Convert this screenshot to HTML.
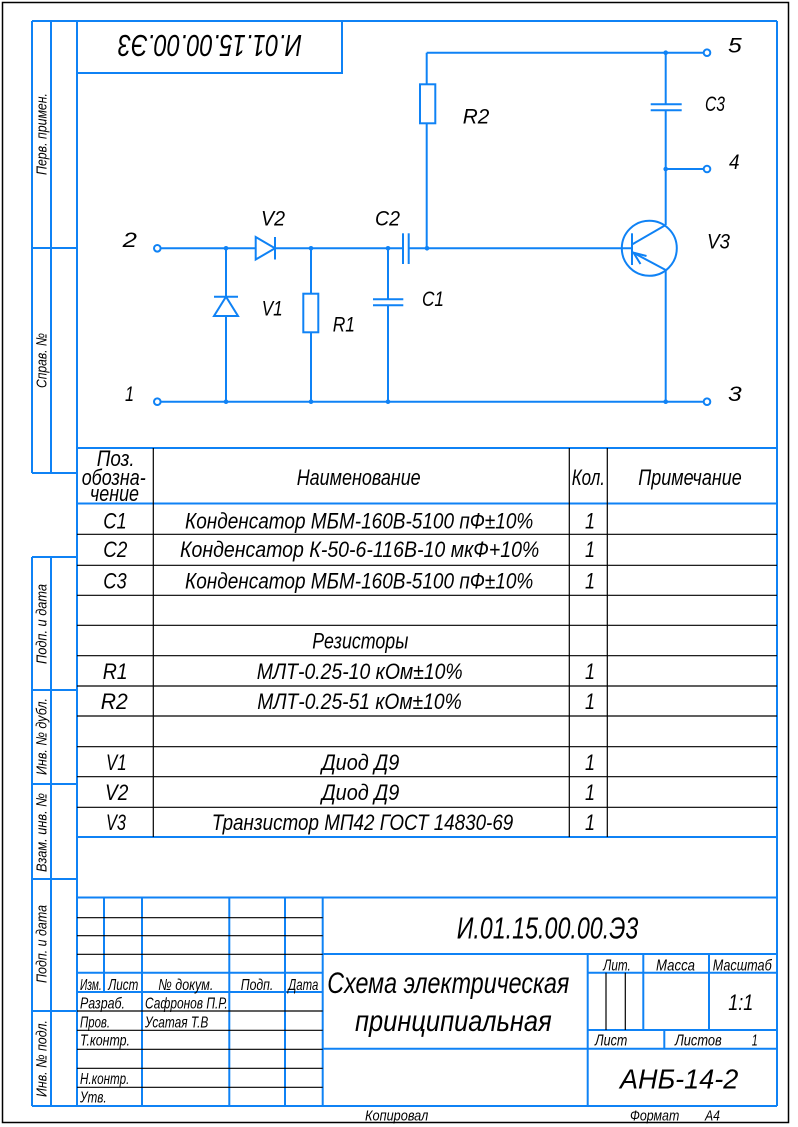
<!DOCTYPE html>
<html><head><meta charset="utf-8"><style>
html,body{margin:0;padding:0;background:#fff;}
svg{display:block;}
text{font-family:"Liberation Sans",sans-serif;font-style:italic;fill:#000;}
</style></head><body>
<svg width="798" height="1127" viewBox="0 0 798 1127" xmlns="http://www.w3.org/2000/svg">
<rect x="0" y="0" width="798" height="1127" fill="#fff"/>
<rect x="2.5" y="2.5" width="786" height="1120" fill="none" stroke="#000" stroke-width="1.5"/>

<!-- Blue frame -->
<g stroke="#0f82f5" stroke-width="2" fill="none">
<line x1="32" y1="21" x2="777" y2="21"/>
<line x1="77" y1="21" x2="77" y2="1106"/>
<line x1="777" y1="21" x2="777" y2="1106"/>
<line x1="32" y1="1106" x2="777" y2="1106"/>
<!-- side strip upper -->
<line x1="32" y1="21" x2="32" y2="473"/>
<line x1="51" y1="21" x2="51" y2="473"/>
<line x1="32" y1="248" x2="77" y2="248"/>
<line x1="32" y1="473" x2="77" y2="473"/>
<!-- side strip lower -->
<line x1="32" y1="557" x2="32" y2="1106"/>
<line x1="51" y1="557" x2="51" y2="1106"/>
<line x1="32" y1="557" x2="77" y2="557"/>
<line x1="32" y1="690" x2="77" y2="690"/>
<line x1="32" y1="784" x2="77" y2="784"/>
<line x1="32" y1="879" x2="77" y2="879"/>
<line x1="32" y1="1011" x2="77" y2="1011"/>
<!-- stamp -->
<polyline points="77,73 342,73 342,21"/>
<!-- table -->
<line x1="77" y1="448" x2="777" y2="448"/>
<line x1="77" y1="503.5" x2="777" y2="503.5"/>
<line x1="77" y1="837" x2="777" y2="837"/>
<!-- title block -->
<line x1="77" y1="897.5" x2="777" y2="897.5"/>
<line x1="104" y1="897.5" x2="104" y2="992"/>
<line x1="142" y1="897.5" x2="142" y2="1106"/>
<line x1="229.3" y1="897.5" x2="229.3" y2="1106"/>
<line x1="285" y1="897.5" x2="285" y2="1106"/>
<line x1="322.7" y1="897.5" x2="322.7" y2="1106"/>
<line x1="77" y1="972.7" x2="322.7" y2="972.7"/>
<line x1="77" y1="992" x2="322.7" y2="992"/>
<line x1="322.7" y1="954" x2="777" y2="954"/>
<line x1="322.7" y1="1048.7" x2="777" y2="1048.7"/>
<line x1="587.7" y1="954" x2="587.7" y2="1106"/>
<line x1="587.7" y1="972.7" x2="777" y2="972.7"/>
<line x1="643.3" y1="954" x2="643.3" y2="1030"/>
<line x1="709" y1="954" x2="709" y2="1030"/>
<line x1="587.7" y1="1030" x2="777" y2="1030"/>
<line x1="664.3" y1="1030" x2="664.3" y2="1048.7"/>
</g>

<!-- Black thin table lines -->
<g stroke="#000" stroke-width="1.2" fill="none">
<line x1="153.3" y1="448" x2="153.3" y2="837"/>
<line x1="569.3" y1="448" x2="569.3" y2="837"/>
<line x1="607.3" y1="448" x2="607.3" y2="837"/>
<line x1="77" y1="534.3" x2="777" y2="534.3"/>
<line x1="77" y1="565.3" x2="777" y2="565.3"/>
<line x1="77" y1="595.3" x2="777" y2="595.3"/>
<line x1="77" y1="625.3" x2="777" y2="625.3"/>
<line x1="77" y1="655.7" x2="777" y2="655.7"/>
<line x1="77" y1="686" x2="777" y2="686"/>
<line x1="77" y1="716" x2="777" y2="716"/>
<line x1="77" y1="746.7" x2="777" y2="746.7"/>
<line x1="77" y1="776.7" x2="777" y2="776.7"/>
<line x1="77" y1="807.3" x2="777" y2="807.3"/>
<!-- title block thin -->
<line x1="77" y1="917.7" x2="322.7" y2="917.7"/>
<line x1="77" y1="935.7" x2="322.7" y2="935.7"/>
<line x1="77" y1="954.3" x2="322.7" y2="954.3"/>
<line x1="77" y1="1011" x2="322.7" y2="1011"/>
<line x1="77" y1="1030.3" x2="322.7" y2="1030.3"/>
<line x1="77" y1="1049.3" x2="322.7" y2="1049.3"/>
<line x1="77" y1="1068.3" x2="322.7" y2="1068.3"/>
<line x1="77" y1="1087.3" x2="322.7" y2="1087.3"/>
<line x1="606" y1="972.7" x2="606" y2="1030"/>
<line x1="625.3" y1="972.7" x2="625.3" y2="1030"/>
</g>

<!-- Circuit -->
<g stroke="#0f82f5" stroke-width="2" fill="none">
<!-- line 2 -->
<line x1="160.5" y1="248.3" x2="403" y2="248.3"/>
<line x1="408.7" y1="248.3" x2="632" y2="248.3"/>
<!-- line 1/3 -->
<line x1="160.5" y1="401.7" x2="703.5" y2="401.7"/>
<!-- V2 diode -->
<polygon points="255.7,237 255.7,259.5 275,248.3" fill="#fff"/>
<line x1="275" y1="237" x2="275" y2="259.5"/>
<!-- V1 branch -->
<line x1="226" y1="248.3" x2="226" y2="401.7"/>
<polygon points="226,296.7 214,316 238,316" fill="#fff"/>
<line x1="214" y1="296.7" x2="238" y2="296.7"/>
<!-- R1 branch -->
<line x1="311" y1="248.3" x2="311" y2="401.7"/>
<rect x="303.3" y="293.7" width="15" height="38.6" fill="#fff"/>
<!-- C1 branch -->
<line x1="388" y1="248.3" x2="388" y2="299.3"/>
<line x1="388" y1="305.3" x2="388" y2="401.7"/>
<line x1="373" y1="299.3" x2="403.3" y2="299.3"/>
<line x1="373" y1="305.3" x2="403.3" y2="305.3"/>
<!-- C2 plates -->
<line x1="403" y1="233.3" x2="403" y2="264"/>
<line x1="408.7" y1="233.3" x2="408.7" y2="264"/>
<!-- R2 branch -->
<line x1="426.7" y1="248.3" x2="426.7" y2="52.7"/>
<rect x="420" y="84.3" width="15.3" height="39" fill="#fff"/>
<line x1="426.7" y1="52.7" x2="703.5" y2="52.7"/>
<!-- collector column -->
<line x1="665.7" y1="52.7" x2="665.7" y2="104.3"/>
<line x1="665.7" y1="110.3" x2="665.7" y2="225"/>
<line x1="650.7" y1="104.3" x2="681.7" y2="104.3"/>
<line x1="650.7" y1="110.3" x2="681.7" y2="110.3"/>
<line x1="665.7" y1="169" x2="703.5" y2="169"/>
<!-- transistor -->
<circle cx="649.3" cy="248.3" r="27.5"/>
<line x1="632" y1="233.3" x2="632" y2="265"/>
<line x1="632" y1="244.5" x2="665.7" y2="225"/>
<line x1="632" y1="252" x2="665.7" y2="270"/>
<line x1="665.7" y1="270" x2="665.7" y2="401.7"/>
<polyline points="646.5,256 633.5,252.7 640.5,264"/>
<!-- terminals -->
<circle cx="157.3" cy="248.3" r="3.3" fill="#fff"/>
<circle cx="157.3" cy="401.7" r="3.3" fill="#fff"/>
<circle cx="707" cy="52.7" r="3.3" fill="#fff"/>
<circle cx="707" cy="169" r="3.3" fill="#fff"/>
<circle cx="707" cy="401.7" r="3.3" fill="#fff"/>
</g>
<g fill="#0f82f5">
<circle cx="226" cy="248.3" r="2.3"/>
<circle cx="311" cy="248.3" r="2.3"/>
<circle cx="388" cy="248.3" r="2.3"/>
<circle cx="427" cy="248.3" r="2.3"/>
<circle cx="226" cy="401.7" r="2.3"/>
<circle cx="311" cy="401.7" r="2.3"/>
<circle cx="388" cy="401.7" r="2.3"/>
<circle cx="665.7" cy="401.7" r="2.3"/>
<circle cx="665.7" cy="52.7" r="2.3"/>
<circle cx="665.7" cy="169" r="2.3"/>
</g>

<!-- Circuit labels -->
<g font-size="21">
<text x="122.7" y="247" textLength="14.3" lengthAdjust="spacingAndGlyphs">2</text>
<text x="261" y="225.7" textLength="24" lengthAdjust="spacingAndGlyphs">V2</text>
<text x="375" y="225.7" textLength="25" lengthAdjust="spacingAndGlyphs">C2</text>
<text x="125" y="401" textLength="9" lengthAdjust="spacingAndGlyphs">1</text>
<text x="261.7" y="315.7" textLength="21" lengthAdjust="spacingAndGlyphs">V1</text>
<text x="332.7" y="331.7" textLength="22.3" lengthAdjust="spacingAndGlyphs">R1</text>
<text x="422" y="306" textLength="22" lengthAdjust="spacingAndGlyphs">C1</text>
<text x="462.7" y="123.3" textLength="26.6" lengthAdjust="spacingAndGlyphs">R2</text>
<text x="728" y="52.3" textLength="13.7" lengthAdjust="spacingAndGlyphs">5</text>
<text x="705" y="111" textLength="20" lengthAdjust="spacingAndGlyphs">C3</text>
<text x="729" y="169" textLength="10.5" lengthAdjust="spacingAndGlyphs">4</text>
<text x="707" y="248.3" textLength="23" lengthAdjust="spacingAndGlyphs">V3</text>
<text x="728" y="401" textLength="13.7" lengthAdjust="spacingAndGlyphs">3</text>
</g>

<!-- Stamp rotated -->
<text transform="rotate(180 210 46.5)" x="118" y="58" font-size="31" textLength="184" lengthAdjust="spacingAndGlyphs">И.01.15.00.00.Э3</text>

<!-- Side labels -->
<g font-size="15" text-anchor="middle">
<text transform="translate(46.5 134) rotate(-90)" textLength="82" lengthAdjust="spacingAndGlyphs">Перв. примен.</text>
<text transform="translate(46.5 360.5) rotate(-90)" textLength="55" lengthAdjust="spacingAndGlyphs">Справ. №</text>
<text transform="translate(46.5 624) rotate(-90)" textLength="80" lengthAdjust="spacingAndGlyphs">Подп. и дата</text>
<text transform="translate(46.5 736.5) rotate(-90)" textLength="77" lengthAdjust="spacingAndGlyphs">Инв. № дубл.</text>
<text transform="translate(46.5 832.5) rotate(-90)" textLength="79" lengthAdjust="spacingAndGlyphs">Взам. инв. №</text>
<text transform="translate(46.5 944) rotate(-90)" textLength="78" lengthAdjust="spacingAndGlyphs">Подп. и дата</text>
<text transform="translate(46.5 1058.5) rotate(-90)" textLength="77" lengthAdjust="spacingAndGlyphs">Инв. № подл.</text>
</g>

<!-- Table header -->
<g font-size="22">
<text x="96.7" y="466" textLength="38" lengthAdjust="spacingAndGlyphs">Поз.</text>
<text x="81.7" y="485" textLength="64" lengthAdjust="spacingAndGlyphs">обозна-</text>
<text x="90" y="501" textLength="49" lengthAdjust="spacingAndGlyphs">чение</text>
<text x="296.7" y="485" textLength="124" lengthAdjust="spacingAndGlyphs">Наименование</text>
<text x="571.7" y="485" textLength="33.3" lengthAdjust="spacingAndGlyphs">Кол.</text>
<text x="638.3" y="485" textLength="103.4" lengthAdjust="spacingAndGlyphs">Примечание</text>
</g>

<!-- Table rows -->
<g font-size="22">
<text x="103.3" y="528.3" textLength="23.4" lengthAdjust="spacingAndGlyphs">C1</text>
<text x="185" y="528.3" textLength="348.3" lengthAdjust="spacingAndGlyphs">Конденсатор МБМ-160В-5100 пФ±10%</text>
<text x="585" y="528.3" textLength="10" lengthAdjust="spacingAndGlyphs">1</text>

<text x="103.3" y="557" textLength="24" lengthAdjust="spacingAndGlyphs">C2</text>
<text x="180" y="557" textLength="359.3" lengthAdjust="spacingAndGlyphs">Конденсатор К-50-6-116В-10 мкФ+10%</text>
<text x="585" y="557" textLength="10" lengthAdjust="spacingAndGlyphs">1</text>

<text x="103.3" y="588.3" textLength="23.4" lengthAdjust="spacingAndGlyphs">C3</text>
<text x="185" y="588.3" textLength="348.3" lengthAdjust="spacingAndGlyphs">Конденсатор МБМ-160В-5100 пФ±10%</text>
<text x="585" y="588.3" textLength="10" lengthAdjust="spacingAndGlyphs">1</text>

<text x="312.3" y="648.3" textLength="96" lengthAdjust="spacingAndGlyphs">Резисторы</text>

<text x="102.7" y="679" textLength="25" lengthAdjust="spacingAndGlyphs">R1</text>
<text x="256.7" y="679" textLength="206" lengthAdjust="spacingAndGlyphs">МЛТ-0.25-10 кОм±10%</text>
<text x="585" y="679" textLength="10" lengthAdjust="spacingAndGlyphs">1</text>

<text x="100.7" y="709" textLength="27" lengthAdjust="spacingAndGlyphs">R2</text>
<text x="257.3" y="709" textLength="204.4" lengthAdjust="spacingAndGlyphs">МЛТ-0.25-51 кОм±10%</text>
<text x="585" y="709" textLength="10" lengthAdjust="spacingAndGlyphs">1</text>

<text x="106" y="770" textLength="20.7" lengthAdjust="spacingAndGlyphs">V1</text>
<text x="321.7" y="770" textLength="77.6" lengthAdjust="spacingAndGlyphs">Диод Д9</text>
<text x="585" y="770" textLength="10" lengthAdjust="spacingAndGlyphs">1</text>

<text x="105" y="800" textLength="23.3" lengthAdjust="spacingAndGlyphs">V2</text>
<text x="321.7" y="800" textLength="77.6" lengthAdjust="spacingAndGlyphs">Диод Д9</text>
<text x="585" y="800" textLength="10" lengthAdjust="spacingAndGlyphs">1</text>

<text x="106" y="830" textLength="20" lengthAdjust="spacingAndGlyphs">V3</text>
<text x="211.7" y="830" textLength="301.6" lengthAdjust="spacingAndGlyphs">Транзистор МП42 ГОСТ 14830-69</text>
<text x="585" y="830" textLength="10" lengthAdjust="spacingAndGlyphs">1</text>
</g>

<!-- Title block right -->
<text x="456.7" y="938.3" font-size="31" textLength="181.6" lengthAdjust="spacingAndGlyphs">И.01.15.00.00.Э3</text>
<text x="327.3" y="993" font-size="30" textLength="242" lengthAdjust="spacingAndGlyphs">Схема электрическая</text>
<text x="355" y="1031" font-size="30" textLength="196.7" lengthAdjust="spacingAndGlyphs">принципиальная</text>
<g font-size="16">
<text x="603.3" y="970.7" textLength="27.4" lengthAdjust="spacingAndGlyphs">Лит.</text>
<text x="656" y="970.7" textLength="39" lengthAdjust="spacingAndGlyphs">Масса</text>
<text x="712.7" y="970.7" textLength="59" lengthAdjust="spacingAndGlyphs">Масштаб</text>
<text x="595" y="1045.7" textLength="32.3" lengthAdjust="spacingAndGlyphs">Лист</text>
<text x="675" y="1045.7" textLength="46.7" lengthAdjust="spacingAndGlyphs">Листов</text>
<text x="751.7" y="1045.7" textLength="6" lengthAdjust="spacingAndGlyphs">1</text>
</g>
<text x="728.3" y="1010" font-size="22" textLength="25" lengthAdjust="spacingAndGlyphs">1:1</text>
<text x="620" y="1088.3" font-size="28" textLength="118.3" lengthAdjust="spacingAndGlyphs">АНБ-14-2</text>
<g font-size="15">
<text x="365" y="1120.7" textLength="63.3" lengthAdjust="spacingAndGlyphs">Копировал</text>
<text x="630" y="1120.7" textLength="49.3" lengthAdjust="spacingAndGlyphs">Формат</text>
<text x="705" y="1120.7" textLength="15" lengthAdjust="spacingAndGlyphs">А4</text>
</g>

<!-- Title block left -->
<g font-size="16">
<text x="80" y="990" textLength="21.7" lengthAdjust="spacingAndGlyphs">Изм.</text>
<text x="108.3" y="990" textLength="30" lengthAdjust="spacingAndGlyphs">Лист</text>
<text x="158.3" y="990" textLength="55" lengthAdjust="spacingAndGlyphs">№ докум.</text>
<text x="240.7" y="990" textLength="32.6" lengthAdjust="spacingAndGlyphs">Подп.</text>
<text x="288.3" y="990" textLength="30" lengthAdjust="spacingAndGlyphs">Дата</text>
<text x="80" y="1008.3" textLength="45" lengthAdjust="spacingAndGlyphs">Разраб.</text>
<text x="145" y="1008.3" textLength="82.7" lengthAdjust="spacingAndGlyphs">Сафронов П.Р.</text>
<text x="80" y="1027.7" textLength="30" lengthAdjust="spacingAndGlyphs">Пров.</text>
<text x="145" y="1027.7" textLength="63.3" lengthAdjust="spacingAndGlyphs">Усатая Т.В</text>
<text x="80" y="1045.7" textLength="50" lengthAdjust="spacingAndGlyphs">Т.контр.</text>
<text x="80" y="1084" textLength="49.3" lengthAdjust="spacingAndGlyphs">Н.контр.</text>
<text x="80" y="1102.7" textLength="26.7" lengthAdjust="spacingAndGlyphs">Утв.</text>
</g>
</svg>
</body></html>
